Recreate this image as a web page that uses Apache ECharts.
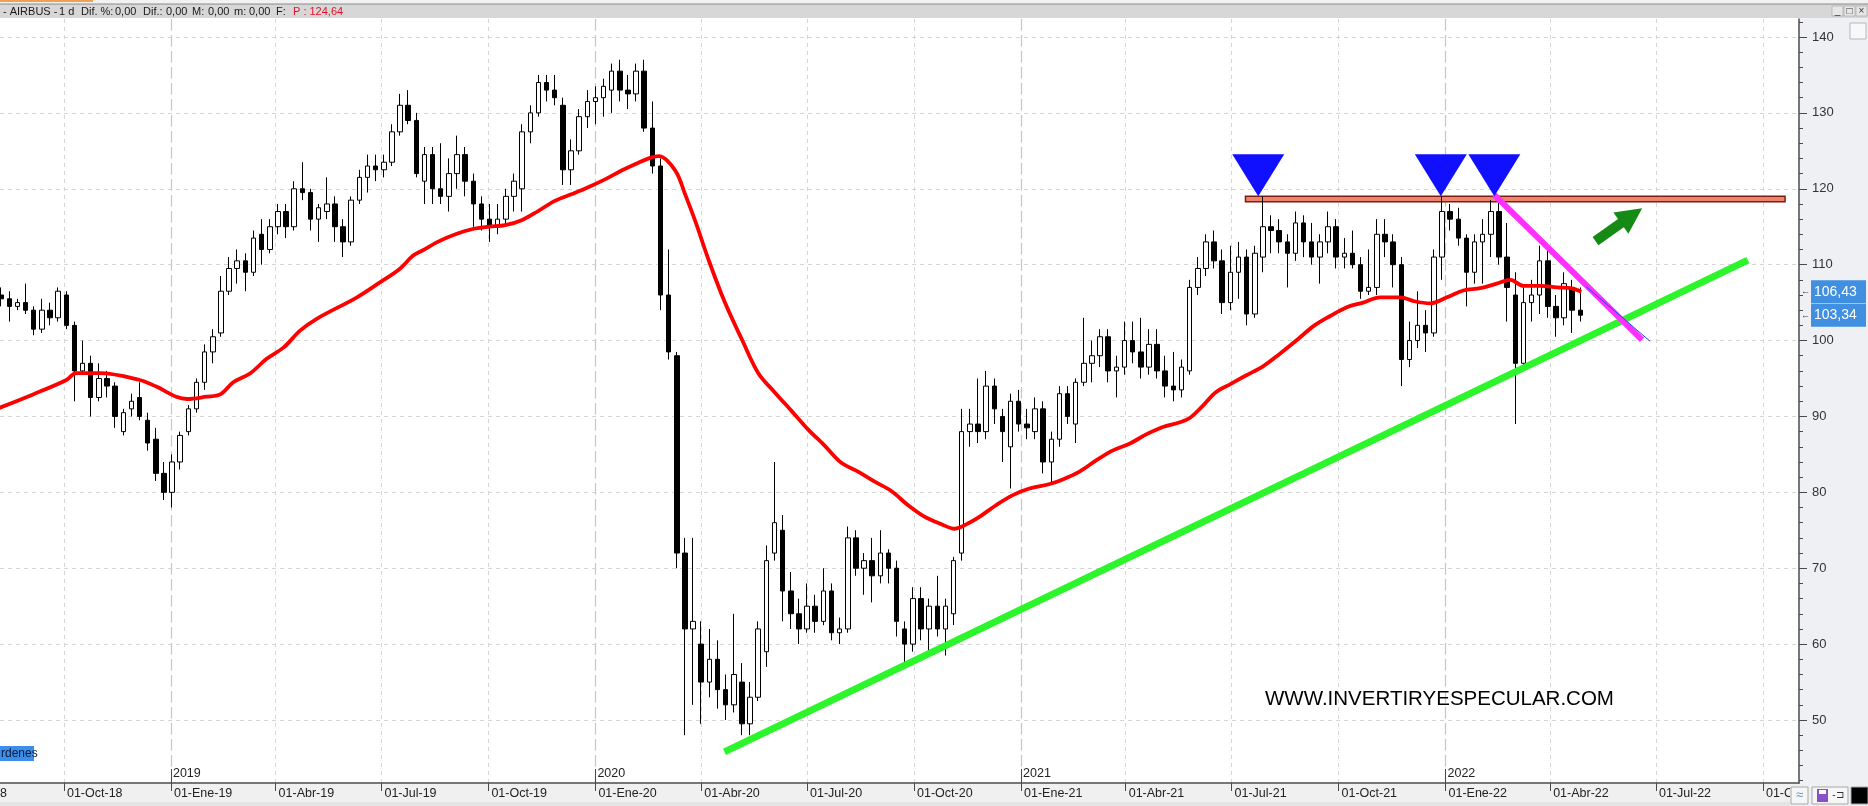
<!DOCTYPE html>
<html><head><meta charset="utf-8"><title>AIRBUS</title>
<script src="https://cdn.jsdelivr.net/npm/echarts@6/dist/echarts.min.js"></script>
<style>html,body{margin:0;padding:0;background:#fff;overflow:hidden}#chart{width:1868px;height:806px}</style>
</head><body><div id="chart"></div>
<script>
// ---------------- DATA (weekly candles) ----------------
const firstWeek = '2018-08-06';
const opens = [
106,105.5,104.5,105,104,101.5,104,103,106,102,
96,97,92.5,95,94,88,91,92.5,89.5,87,
82.5,80,84,88,91,94.5,98.5,101,106.5,109.5,
110.5,109,114,112,115,117,115,120,119.5,116,
117,118,115,113,118.5,121.5,123,122.5,123.5,127.5,
131,129,121,124.5,120,119,122,124.5,121,118,
116,115,116,119,120,127.5,130,134,133,131,
122.5,125,129.5,131.5,132,133,135.5,133,132.5,135.5,
128,123,106,98,72,62,60,55,58,54,
52,55,49.5,53,59,72,75,67,64,62,
65,63,67,61.5,62,74,70,71,69,72,
70,62,60,66,62,65,62,64,72,88,
89,88,94,90,86,92,89,88,91,84,
87,93,89,94.5,97,98,100.5,96,96.5,100,
98.5,96.5,99.5,96,94,93.5,96,107,109.5,113,
110.5,105,109,111,103.5,111,115,114.5,113,111.5,
115.5,113,111,113,115,111,111.5,110,106.5,107,
114,113,110,97.5,100,102,101,111,117,116,
113.5,109,113,114,117,111,106,97,105,106,
110.5,104.5,103,107,104];
const highs = [
107,106.5,105.5,107.5,104.5,105.5,105,107,106.5,102.5,
100,98,97,96,94.5,91,93,94.5,90.5,88.5,
84,85,88,91.5,95,99.5,101.5,108.5,111,112,
111.5,114.5,116,116,118,118,121,123.5,120,118,
121.5,119,116,119,122.5,124.5,124.5,124.5,128.5,132.5,
133,130,125.5,125.5,126,124,127,125.5,122,119,
118,118,120,122,128.5,131,135,135,135,132,
126.5,130.5,133,133.5,134.5,136.5,137,135,136.5,137,
131.5,124,112,98.5,74,74,63,62,60.5,56,
64,57.5,55,63,73,84,77,69.5,66,68,
66.5,70,68,63.5,75.5,75,72,74,75,72.5,
71,63,67.5,67.5,66,69,66,71.5,91,91,
95,96,95,91,93,93.5,91,92.5,92,88,
94,94,95,103,100,101.5,101.5,98,102.5,102.5,
103,101.5,101.5,98,98.5,97.5,108,111,114,114.5,
112,112.5,113,112,112.5,119,116.5,116,114,117,
116.5,115.5,114,117,116,113.5,114.5,111,112,116,
116,114,111,102.5,106.5,104,112,119,118,117.5,
114,114,116,118.5,119,115.5,109,107,108,112.5,
112,106,109,108,107];
const lows = [
104.5,102.5,104,103.5,100.7,101,102,102.5,101.5,92,
95.5,90,92,92.5,88.5,87.5,90,89.5,85.5,81.5,
79,78,83,87.5,90.5,93.5,97,100.5,106,107.5,
106.5,108.5,110,111.5,114,113.5,114.5,118.5,114.5,113,
116,113,111,112.5,118,119.5,121,121.5,123,127,
128.5,121.5,118,118,118,117,120,119,115,114.5,
113,114,115,117,117,126,129.5,131.5,131,120.5,
120.5,124.5,128,128.5,129.5,130,131.5,130.5,131.5,127.5,
122,104,97.5,70,48,52,49.5,53,51.5,50,
51,48,48,52.5,57,71,63,62,60,61.5,
61.5,62.5,60.5,60,61.5,69,66.5,65.5,68,68,
61,57.5,59,60.5,58.5,61,58.5,62.5,71,86,
86.5,87,89,84,80.5,88,87,87,82.5,81,
86,89,86.5,94,94.5,96.5,94.5,92.5,95.5,97,
95,95.5,95,92.5,92,92.5,95.5,106,108.5,109.5,
103.5,104,105.5,102,103,109,111.5,111.5,107,110.5,
111,110,107.5,111.5,109.5,109.5,109.5,105.5,106,106,
111,107,94,96.5,99,98.5,100.5,108,114.5,112.5,
104.5,107.5,107.5,111,110,102.5,89,96,102.5,103.5,
103,100.5,102,101,102.5];
const closes = [
105.5,104.5,105,104,101.5,104,103,106.5,102,96,
97,92.5,95,94,90,90.5,92,90,86.5,82.5,
80,84,87.5,91,94.5,98.5,100.5,106.5,109.5,110.5,
109,113.5,112,115,117,115,120,119.5,116,117.5,
118,115,113,118.5,121.5,123,122.5,123.5,127.5,131,
129,122,124.5,120,119,122,124.5,121,118,116,
115,116,119,121,127.5,130,134,133,132,122.5,
125,129.5,131.5,132,133.5,135.5,133,132.5,135.5,128,
123,106,98.5,72,62,63,55,58,54,52,
56,49.5,53,62,71,76,67,64,62,65,
63,67,61.5,62,74,70,71,69,72,70,
63,60,66,62,65,62,65,71,88,89,
88,94,91,88,92,89,88.5,91,84,87,
93,90,94.5,97,98,100.5,96,96.5,100,98.5,
96.5,99.5,96,94,93.5,96.5,107,109.5,113,110.5,
105,109,111,103.5,111.5,115,114.5,113,111.5,115.5,
113,111,113,115,111,111.5,110,106.5,107,114,
113,110,97.5,100,102,101,111,117,116,113.5,
109,113,114,117,111,107,97,105,106,110.5,
104.5,103,107.5,104,103.34];

// red moving average, sampled along the drawn curve (week number, value)
const maWeeks = [0,4.2,8.3,9.5,12.4,17.3,19.4,21.8,23.1,25.5,27.2,28.8,30.9,32.9,35,37,39.1,44,47,49.2,
50.9,52.1,54.1,56.1,58.2,60.2,62.2,64.3,66.3,68.3,70.4,72.4,74.4,76.5,78.5,80.1,81.1,83.1,84.3,85.6,
87.2,89.2,91.3,93.3,95.3,97.4,99.4,101.5,103.5,105.6,107.6,109.6,111.7,113.7,115.8,117.4,119.4,120.5,122.5,124.5,
126.6,129.1,130.7,132.7,134.8,136.8,138.9,140.9,143,145,146.3,147.9,149.5,151.2,153.2,155.3,157.3,159.5,161.5,163.5,
165.6,167.6,169.7,172.2,173.8,175.8,177.9,179.9,182,184,185.7,187.3,189.4,191.4,193.1,194.4];
const maValues = [91.1,92.9,94.8,95.7,95.7,94.8,93.9,92.6,92.3,92.6,92.9,94.5,95.7,97.6,99.1,101.3,102.9,105.7,107.8,109.4,
111.2,111.9,113.1,114,114.7,115,115.2,115.9,117.1,118.4,119.3,120.2,121.2,122.4,123.4,124.1,124.3,122.4,119.3,115.6,
110.6,105,100.1,95.7,93.2,90.7,88.3,86.1,83.9,82.7,81.4,80.2,78.3,76.8,75.8,75.2,76.1,76.8,78.3,79.6,
80.5,81.1,81.7,82.7,84.2,85.5,86.4,87.6,88.6,89.2,89.8,91.4,93.2,94.2,95.4,96.6,98.2,100.1,101.9,103.2,
104.4,105,105.7,105.7,105.2,104.9,105.7,106.6,106.9,107.5,108,107.2,107.2,107,106.9,106.43];

// axis ticks
const quarterTicks = ['2018-10-01','2019-01-01','2019-04-01','2019-07-01','2019-10-01','2020-01-01','2020-04-01','2020-07-01',
  '2020-10-01','2021-01-01','2021-04-01','2021-07-01','2021-10-01','2022-01-01','2022-04-01','2022-07-01','2022-10-01'];
const yearTicks = ['2019-01-01','2020-01-01','2021-01-01','2022-01-01'];
const monthNames = ['Ene','Feb','Mar','Abr','May','Jun','Jul','Ago','Sep','Oct','Nov','Dic'];
const priceTicks = [50,60,70,80,90,100,110,120,130,140];
const minorPriceTicks = [42,44,46,48,52,54,56,58,62,64,66,68,72,74,76,78,82,84,86,88,92,94,96,98,102,104,106,108,112,114,116,118,122,124,126,128,132,134,136,138,142];
const xRange = ['2018-08-07','2022-11-01'];
const yRange = [41.7, 142.37];

// drawn annotations (dates / prices)
const peakDates = ['2021-07-24','2021-12-28','2022-02-12'];
const peakValues = [119, 119, 119];
const resistanceBand = {dates:['2021-07-13','2022-10-20'], values:[119.0, 118.3]};
const supportDates = ['2020-04-21','2022-09-18'];
const supportValues = [45.8, 110.6];
const downDates = ['2022-02-12','2022-06-19'];
const downValues = [119.2, 100.1];
const thinDates = ['2022-05-02','2022-06-26'];
const thinValues = [107.1, 99.9];
const arrowDates = ['2022-05-10','2022-06-10'];
const arrowValues = [113.1, 116.45];

// ---------------- BUILD ----------------
const FONT = '"Liberation Sans", Arial, sans-serif';
const DAY = 86400000;
const ts = s => Date.parse(s + 'T00:00:00Z');
const base = ts(firstWeek);
const candleData = opens.map((o, i) => [base + (7 * i + 2) * DAY, o, closes[i], lows[i], highs[i]]);
const maData = maWeeks.map((w, i) => [base + w * 7 * DAY, maValues[i]]);
const qTs = quarterTicks.map(ts);
const yTs = yearTicks.map(ts);
const pad2 = n => (n < 10 ? '0' : '') + n;
const fmtDate = v => { const d = new Date(v); return pad2(d.getUTCDate()) + '-' + monthNames[d.getUTCMonth()] + '-' + String(d.getUTCFullYear()).slice(2); };
const pair = (ds, vs) => ds.map((d, i) => [ts(d), vs[i]]);

const chart = echarts.init(document.getElementById('chart'), null, {renderer: 'canvas'});
const option = {
  animation: false,
  backgroundColor: '#ffffff',
  grid: {left: 0, right: 69, top: 19, bottom: 23, containLabel: false},
  xAxis: [{
    type: 'value', min: ts(xRange[0]), max: ts(xRange[1]), scale: true,
    axisLine: {show: true, onZero: false, lineStyle: {color: '#4a4a4a', width: 1.5}},
    axisTick: {show: true, customValues: qTs, length: 8, lineStyle: {color: '#4a4a4a'}},
    axisLabel: {customValues: qTs, formatter: fmtDate, align: 'left', margin: 4, padding: [0, 0, 0, 3],
      color: '#222', fontSize: 12.5, fontFamily: FONT, hideOverlap: false},
    splitLine: {show: true, lineStyle: {type: [4, 4], color: '#d6d6d6', width: 1}}
  }, {
    type: 'value', min: ts(xRange[0]), max: ts(xRange[1]), scale: true, position: 'bottom',
    axisLine: {show: false, onZero: false},
    axisTick: {show: true, inside: true, customValues: yTs, length: 14, lineStyle: {color: '#4a4a4a'}},
    axisLabel: {show: true, inside: true, customValues: yTs, formatter: v => String(new Date(v).getUTCFullYear()),
      align: 'left', margin: 3, padding: [0, 0, 0, 2], color: '#222', fontSize: 12.5, fontFamily: FONT},
    splitLine: {show: true, lineStyle: {type: [11, 5], color: '#c6c6c6', width: 1.2}}
  }],
  yAxis: [{
    type: 'value', position: 'right', min: yRange[0], max: yRange[1],
    axisLine: {show: true, lineStyle: {color: '#4a4a4a', width: 1.5}},
    axisTick: {show: true, customValues: priceTicks, length: 8, lineStyle: {color: '#4a4a4a'}},
    axisLabel: {customValues: priceTicks, margin: 13, color: '#333', fontSize: 13, fontFamily: FONT},
    splitLine: {show: true, lineStyle: {type: [4, 4], color: '#d6d6d6'}}
  }, {
    type: 'value', position: 'right', min: yRange[0], max: yRange[1],
    axisLine: {show: false},
    axisTick: {show: true, customValues: minorPriceTicks, length: 4, lineStyle: {color: '#4a4a4a'}},
    axisLabel: {show: false}, splitLine: {show: false}
  }],
  series: [
    {
      name: 'AIRBUS', type: 'candlestick', data: candleData, barWidth: 5, z: 3,
      itemStyle: {color: '#ffffff', color0: '#000000', borderColor: '#000000', borderColor0: '#000000', borderWidth: 1}
    },
    {
      name: 'MA', type: 'line', data: maData, smooth: 0.35, showSymbol: false, z: 4,
      lineStyle: {color: '#ff0000', width: 3.8}
    },
    {
      name: 'soporte', type: 'line', data: pair(supportDates, supportValues), showSymbol: false, z: 5,
      lineStyle: {color: '#2cf52c', width: 7}
    },
    {
      name: 'bajista', type: 'line', data: pair(downDates, downValues), showSymbol: false, z: 6,
      lineStyle: {color: '#ff30ff', width: 6}
    },
    {
      name: 'fina', type: 'line', data: pair(thinDates, thinValues), showSymbol: false, z: 6,
      lineStyle: {color: '#1a4cff', width: 1}
    },
    {
      name: 'resistencia', type: 'line', data: [], z: 7,
      markArea: {silent: true,
        itemStyle: {color: '#ee8470', borderColor: '#7a1e10', borderWidth: 1.5},
        data: [[{xAxis: ts(resistanceBand.dates[0]), yAxis: resistanceBand.values[0]},
                {xAxis: ts(resistanceBand.dates[1]), yAxis: resistanceBand.values[1]}]]}
    },
    {
      name: 'flecha', type: 'line', data: [], z: 8,
      markLine: {silent: true, symbol: ['none', 'triangle'], symbolSize: 26, label: {show: false},
        itemStyle: {color: '#158a15'},
        lineStyle: {color: '#158a15', width: 10, type: 'solid', opacity: 1},
        data: [[{coord: [ts(arrowDates[0]), arrowValues[0]]}, {coord: [ts(arrowDates[1]), arrowValues[1]]}]]}
    },
    {
      name: 'techos', type: 'scatter', data: pair(peakDates, peakValues), z: 9,
      symbol: 'triangle', symbolRotate: 180, symbolSize: [52, 42], symbolOffset: [0, -21],
      itemStyle: {color: '#1010ff', opacity: 1}
    }
  ]
};
chart.setOption(option);

// ---------------- decorations ----------------
const lastMA = maValues[maValues.length - 1];
const lastClose = closes[closes.length - 1];
const yMA = chart.convertToPixel({yAxisIndex: 0}, lastMA);
const yCl = chart.convertToPixel({yAxisIndex: 0}, lastClose);
const fmtNum = v => v.toFixed(2).replace('.', ',');

const headerParts = [['- AIRBUS -', 3], ['1 d', 59], ['Dif. %:', 81], ['0,00', 115], ['Dif.:', 143], ['0,00', 166],
  ['M:', 192], ['0,00', 208], ['m:', 234], ['0,00', 249], ['F:', 276]];
const g = [];
g.push({type: 'rect', shape: {x: 1800, y: 18, width: 68, height: 788}, style: {fill: '#eef0f3'}, z: -10, silent: true});
g.push({type: 'rect', shape: {x: 0, y: 784, width: 1800, height: 18}, style: {fill: '#f0f0f0'}, z: -10, silent: true});
g.push({type: 'rect', shape: {x: 0, y: 802, width: 1868, height: 4}, style: {fill: '#e4e4e4'}, z: -10, silent: true});
g.push({type: 'rect', shape: {x: 0, y: 0, width: 1868, height: 4}, style: {fill: '#f2f2f2'}, z: 50, silent: true});
g.push({type: 'rect', shape: {x: 0, y: 0, width: 93, height: 2}, style: {fill: '#f0a050'}, z: 51, silent: true});
g.push({type: 'rect', shape: {x: 0, y: 4, width: 1868, height: 14}, style: {fill: '#d7d7d7'}, z: 50, silent: true});
g.push({type: 'rect', shape: {x: 0, y: 3.5, width: 1868, height: 1}, style: {fill: '#8a8a8a'}, z: 51, silent: true});
headerParts.forEach(p => g.push({type: 'text', x: p[1], y: 12, z: 52, silent: true,
  style: {text: p[0], fill: '#1a1a1a', font: '11px ' + FONT, textVerticalAlign: 'middle'}}));
g.push({type: 'text', x: 293, y: 12, z: 52, silent: true,
  style: {text: 'P : 124,64', fill: '#e8102a', font: '11px ' + FONT, textVerticalAlign: 'middle'}});
['_', '□', '×'].forEach((t, i) => {
  g.push({type: 'rect', shape: {x: 1832 + i * 12, y: 6, width: 11, height: 10}, style: {fill: '#e6e6e6', stroke: '#b0b0b0', lineWidth: 0.8}, z: 52, silent: true});
  g.push({type: 'text', x: 1837.5 + i * 12, y: 11, z: 53, silent: true, style: {text: t, fill: '#333', font: '10px ' + FONT, textAlign: 'center', textVerticalAlign: 'middle'}});
});
g.push({type: 'rect', shape: {x: 1850, y: 23, width: 16, height: 16}, style: {fill: '#f8f8f8', stroke: '#b8b8b8', lineWidth: 1}, z: 52, silent: true});
[[yMA, lastMA], [yCl, lastClose]].forEach(([y, v]) => {
  g.push({type: 'rect', shape: {x: 1811, y: y - 11.5, width: 55, height: 23}, style: {fill: '#418fe0'}, z: 60, silent: true});
  g.push({type: 'text', x: 1814, y: y, z: 61, silent: true, style: {text: fmtNum(v), fill: '#ffffff', font: '14px ' + FONT, textVerticalAlign: 'middle'}});
  g.push({type: 'text', x: 1801, y: y, z: 61, silent: true, style: {text: '←', fill: '#444', font: '9px ' + FONT, textVerticalAlign: 'middle'}});
});
g.push({type: 'text', x: 1265, y: 699, z: 20, silent: true,
  style: {text: 'WWW.INVERTIRYESPECULAR.COM', fill: '#000', font: '20.5px ' + FONT, textVerticalAlign: 'middle'}});
g.push({type: 'rect', shape: {x: 0, y: 746, width: 34, height: 15}, style: {fill: '#3d8ee8'}, z: 30, silent: true});
g.push({type: 'text', x: 1, y: 753.5, z: 31, silent: true, style: {text: 'rdenes', fill: '#0a1a40', font: '12px ' + FONT, textVerticalAlign: 'middle'}});
g.push({type: 'text', x: 0, y: 794, z: 31, silent: true, style: {text: '8', fill: '#222', font: '12.5px ' + FONT, textVerticalAlign: 'middle'}});
g.push({type: 'rect', shape: {x: 1790, y: 786, width: 78, height: 20}, style: {fill: '#eef0f3'}, z: 40, silent: true});
g.push({type: 'rect', shape: {x: 1791, y: 787, width: 17, height: 17}, style: {fill: '#f6f6f6', stroke: '#a8a8a8', lineWidth: 1}, z: 41, silent: true});
g.push({type: 'text', x: 1799.5, y: 795.5, z: 42, silent: true, style: {text: '≈', fill: '#5a8fd8', font: '13px ' + FONT, textAlign: 'center', textVerticalAlign: 'middle'}});
g.push({type: 'rect', shape: {x: 1812, y: 787, width: 36, height: 17}, style: {fill: '#f6f6f6', stroke: '#a8a8a8', lineWidth: 1}, z: 41, silent: true});
g.push({type: 'rect', shape: {x: 1817, y: 789, width: 11, height: 13}, style: {fill: '#8a4fc8'}, z: 42, silent: true});
g.push({type: 'rect', shape: {x: 1819, y: 790, width: 7, height: 4}, style: {fill: '#ffffff'}, z: 43, silent: true});
g.push({type: 'text', x: 1838, y: 795.5, z: 42, silent: true, style: {text: '-⊐', fill: '#333', font: '10px ' + FONT, textAlign: 'center', textVerticalAlign: 'middle'}});
g.push({type: 'rect', shape: {x: 1851, y: 787, width: 17, height: 17}, style: {fill: '#000', stroke: '#a8a8a8', lineWidth: 1}, z: 41, silent: true});

chart.setOption({graphic: {elements: g}});
</script>
</body></html>
